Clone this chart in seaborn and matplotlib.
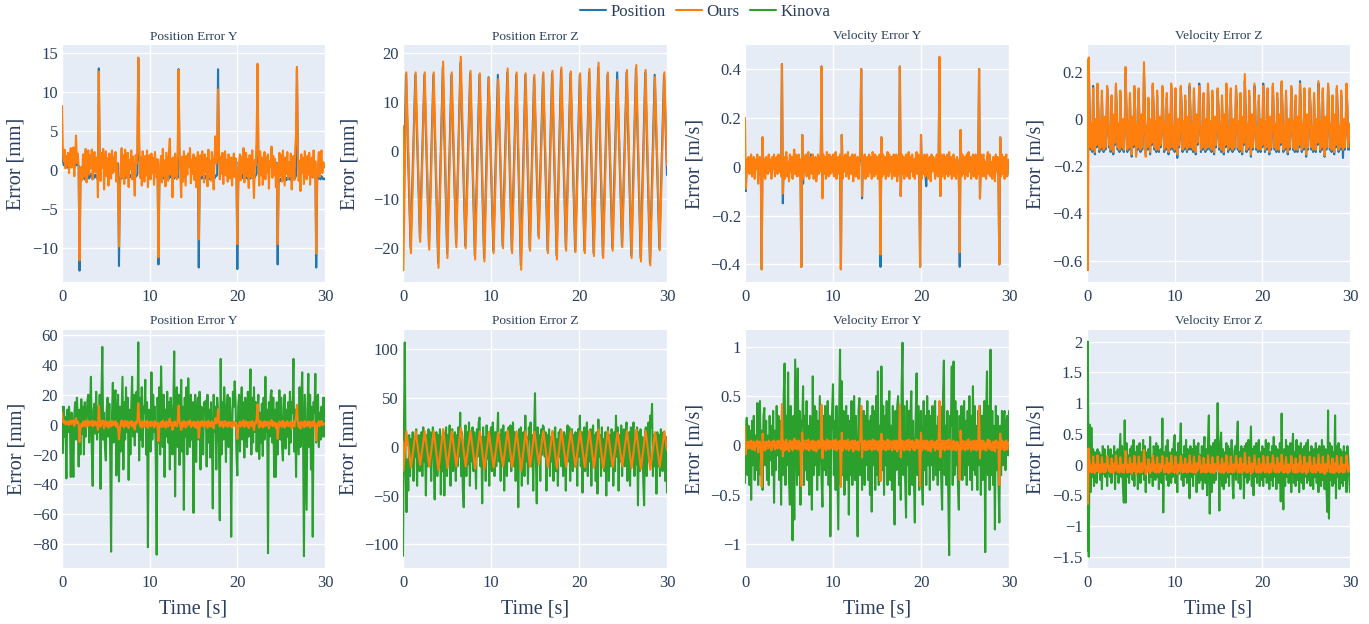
import numpy as np
import matplotlib
matplotlib.use("Agg")
import matplotlib.pyplot as plt
from matplotlib.ticker import FixedLocator, FuncFormatter
from matplotlib.lines import Line2D
import seaborn as sns

# ---------------- data (0.1 s grid unless noted) ----------------
series_names = ["Position", "Ours", "Kinova"]
panel_titles = ["Position Error Y", "Position Error Z", "Velocity Error Y", "Velocity Error Z"]
y_titles = ["Error [mm]", "Error [mm]", "Error [m/s]", "Error [m/s]"]
x_title = "Time [s]"

pos_y_ours = [
    8.2, 2.4, 1.1, 2.6, 0.2, 1.8, 0.6, 2.2, -0.4, 1.5,
    2.8, 0.3, 1.9, 2.9, -0.8, 1.6, 4.4, 0.9, 2.1, 0.4,
    -11.6, -2.1, 0.4, -1.3, 2.0, -0.9, 1.4, 2.7, -1.6, 0.8,
    2.5, -0.6, 1.9, 0.2, 2.6, -1.2, 1.1, 2.3, -0.3, 1.6,
    0.5, -3.5, 12.6, 1.8, -1.4, 2.2, 0.3, 2.7, -2.5, 1.0,
    2.4, -0.8, 1.5, -2.0, 2.1, 0.6, -1.1, 2.5, -0.4, 1.7,
    -0.2, 2.3, -1.5, 0.9, -2.4, -9.8, -3.0, 0.6, 2.8, -1.0,
    1.9, -1.8, 2.6, 0.4, -0.9, 2.2, -2.2, 1.3, 0.1, 2.5,
    -1.2, 1.7, -0.5, -3.3, 1.9, 0.8, 2.4, 14.4, 4.5, -1.0,
    1.6, -2.0, 2.4, 0.2, -1.5, 1.8, -0.7, 2.5, -2.2, 0.9,
    1.9, -1.2, 2.1, -0.4, 1.5, -1.9, 2.3, 0.6, -1.0, 1.4,
    -11.2, -2.5, 0.7, 1.8, -1.6, 2.7, -0.8, 1.2, -2.1, 2.2,
    0.3, -1.4, 2.5, 4.0, -0.6, 1.4, -3.5, 1.6, -0.9, 2.1,
    0.5, -1.2, 2.2, 12.8, 2.6, -0.8, -3.5, 1.7, -1.5, 2.4,
    0.2, -2.0, 1.8, -0.6, 2.1, 0.4, 2.8, -1.7, 1.3, -0.5,
    2.0, -1.3, 1.6, -2.2, 0.9, 2.3, -8.9, -1.8, 1.9, -0.7,
    2.4, 0.1, -1.6, 2.0, -0.3, 1.5, -2.1, 2.6, -0.9, 1.2,
    -1.4, 2.3, 0.6, -2.5, 1.4, 4.3, 0.8, 1.9, 10.3, 2.5,
    -1.2, 1.7, -0.5, 2.2, -1.8, 1.0, 2.4, -0.7, 1.3, -1.5,
    2.0, 0.3, -1.1, 1.6, -2.0, 0.8, 2.1, -0.9, 1.5, -0.2,
    -9.5, -2.4, 0.9, 2.0, -1.3, 1.7, -0.4, 2.8, -1.6, 0.7,
    2.2, -0.8, 1.4, -2.3, 1.9, 0.2, -1.0, 2.5, -0.5, -3.6,
    1.3, 0.6, 3.7, 13.6, 1.8, -2.0, 2.4, -0.7, 1.6, -1.9,
    0.9, 2.3, -1.2, 1.7, -0.3, 2.0, -2.4, 1.1, 0.4, 3.0,
    -1.0, 1.8, -0.6, 1.4, -2.2, 0.8, -9.5, -1.9, 2.2, -0.8,
    1.9, -1.5, 2.5, 0.3, -2.0, 1.6, -0.5, 2.3, -1.1, 1.0,
    -0.7, 2.1, -2.5, 0.9, 1.8, -1.3, 2.6, 4.5, 13.2, 1.9,
    -1.4, 1.2, -2.7, 2.0, -0.4, 1.5, -1.8, 2.4, 0.1, -1.2,
    1.8, -0.6, 2.2, -1.9, 0.7, 1.6, -1.0, 2.5, -0.3, 1.1,
    -10.7, -1.5, 0.8, 2.3, -0.9, 1.7, 2.5, -0.4, 1.0, 0.5,
    0.3]

pos_y_position = [
    2.3, 1.2, 0.6, 0.9, 0.4, 0.7, 0.3, 0.8, 0.5, 0.6,
    0.4, 0.8, 0.5, 0.9, 0.3, 0.7, 1.0, 0.6, 0.8, 0.5,
    -12.9, -1.4, -0.9, -1.1, -0.6, -0.9, -1.2, -0.7, -1.0, -0.8,
    -0.6, -1.1, -0.8, -0.5, -0.9, -1.2, -0.7, -1.0, -0.6, -0.9,
    -0.8, -1.3, 13.0, 0.9, 1.2, 0.7, 1.0, 0.6, 1.3, 0.8,
    1.1, 0.6, 0.9, 1.2, 0.7, 1.0, 0.5, 1.1, 0.8, 0.9,
    0.7, 1.0, 0.6, 0.9, 0.8, -12.3, -1.5, -0.8, -1.1, -0.6,
    -0.9, -1.2, -0.7, -1.0, -0.5, -0.8, -1.1, -0.6, -0.9, -0.7,
    -1.0, -0.6, -0.9, -1.2, -0.7, -0.8, -0.5, 14.3, 1.6, 0.9,
    1.2, 0.8, 1.0, 0.6, 1.1, 0.9, 0.7, 1.2, 0.8, 1.0,
    0.6, 0.9, 1.1, 0.7, 1.0, 0.8, 0.5, 0.9, 1.0, 0.7,
    -12.1, -1.4, -0.9, -1.1, -0.7, -1.0, -0.8, -1.2, -0.6, -0.9,
    -1.0, -0.7, -1.1, -0.8, -0.6, -1.0, -0.9, -0.7, -1.1, -0.8,
    -0.9, -0.6, -1.0, 12.9, 1.0, 0.7, 1.2, 0.8, 1.0, 0.6,
    1.1, 0.9, 0.7, 1.0, 0.8, 1.2, 0.6, 0.9, 1.0, 0.7,
    0.9, 1.1, 0.8, 0.6, 1.0, 0.8, -12.5, -1.3, -0.9, -1.1,
    -0.7, -1.0, -1.2, -0.8, -1.1, -0.6, -0.9, -1.0, -0.7, -1.2,
    -0.8, -1.0, -0.6, -0.9, -1.1, -0.7, -0.8, -0.6, 12.9, 1.3,
    0.9, 1.1, 0.7, 1.0, 0.8, 1.2, 0.6, 0.9, 1.1, 0.8,
    1.0, 0.7, 0.9, 1.1, 0.6, 0.9, 1.0, 0.8, 0.7, 1.0,
    -12.7, -1.5, -0.9, -1.2, -0.8, -1.0, -0.6, -1.1, -0.9, -0.7,
    -1.0, -0.8, -1.2, -0.7, -0.9, -1.1, -0.6, -1.0, -0.8, -1.1,
    -0.9, -0.7, -0.5, 12.8, 1.2, 0.8, 1.0, 0.7, 1.1, 0.9,
    0.8, 1.0, 0.6, 1.1, 0.9, 0.7, 1.0, 0.8, 1.2, 0.9,
    0.7, 1.0, 0.8, 1.1, 0.6, 0.9, -12.1, -1.6, -1.2, -1.4,
    -1.1, -1.3, -0.9, -1.2, -1.4, -1.0, -1.3, -1.1, -0.8, -1.2,
    -1.0, -1.3, -0.9, -1.1, -0.8, -1.2, -1.0, -0.7, 12.8, 1.4,
    0.9, 1.1, 0.7, 1.0, 0.8, 1.2, 0.9, 0.6, 1.0, 0.8,
    1.1, 0.7, 0.9, 1.0, 0.8, 1.2, 0.6, 0.9, 1.0, 0.8,
    -12.5, -1.4, -0.8, -1.1, -0.9, -1.2, -0.8, -1.0, -1.2, -1.1,
    -1.2]

pos_y_kinova = [
    12, -19, 12, -8, 5, -36, 10, -5, 12, 3,
    -35, 8, -12, -35, 6, 15, -10, 18, 4, -28,
    10, -20, 17, -6, 12, -20, 15, -8, 5, 16,
    20, -12, 8, 32, -18, -41, 10, 14, -6, 22,
    -10, 12, -5, 20, -43, 18, 52, -10, 8, -15,
    -24, 10, 18, -8, 14, -20, -85, 5, 28, -12,
    15, 23, -34, 8, 20, -38, 12, -18, 6, 32,
    -30, 15, -10, 25, -5, 18, -37, 10, -20, 12,
    32, -8, 20, -14, 10, 22, -5, 55, -24, 18,
    -10, 25, -15, 12, 8, 30, -20, 15, -82, 10,
    5, -18, 35, -10, 20, -5, 12, -25, -87, 18,
    -12, 25, -20, 39, 8, -15, 20, -35, 10, -8,
    22, -12, 15, -30, 18, 5, -20, 12, 49, -48,
    10, 25, -15, 20, -27, 8, 30, -18, 12, -57,
    18, -8, 25, -20, 31, 5, -15, 20, -10, 15,
    -59, 12, 20, -25, 8, 18, -10, 22, -30, 12,
    5, -20, 15, 8, 16, -28, 20, -12, 10, -22,
    15, -8, -56, 20, -5, 12, -30, 18, 8, -15,
    -64, 44, -20, 15, -10, 25, 8, -25, 12, 20,
    -15, 18, 10, -75, -8, 22, 12, 29, 15, -20,
    -34, 12, 20, -18, 8, 25, -10, 15, -22, 18,
    5, -15, 22, -8, 12, 37, -20, 18, -12, 25,
    -5, 15, -18, 10, 20, -23, 8, -12, 14, -21,
    18, -10, 32, -5, 10, -86, 15, -8, 20, 23,
    -12, 18, -35, 10, -35, 15, -20, 8, 23, -10,
    18, -15, -24, 12, 20, -16, 10, -8, 15, -20,
    22, -12, 15, 8, 44, -18, 10, -35, 12, -5,
    -20, 25, -15, 18, 35, -10, -88, 20, -20, -57,
    10, 34, -15, 20, -30, 12, -75, 15, 8, 34,
    -12, 15, 20, -15, 8, -10, 12, -8, 18, -8,
    18]

# Position error Z: peaks and troughs (irregular times)
pos_z_ours_t = [0.0, 0.04, 0.38, 0.9, 1.44, 1.95, 2.47, 2.98, 3.49, 4.03, 4.56, 5.05, 5.54, 6.06,
                6.57, 7.12, 7.67, 8.2, 8.73, 9.25, 9.76, 10.3, 10.82, 11.36, 11.89, 12.4, 12.91,
                13.43, 13.94, 14.44, 14.93, 15.44, 15.95, 16.47, 16.98, 17.49, 18.0, 18.54, 19.07,
                19.6, 20.13, 20.66, 21.19, 21.7, 22.22, 22.75, 23.28, 23.83, 24.38, 24.92, 25.45,
                25.98, 26.51, 27.04, 27.57, 28.1, 28.64, 29.17, 29.7, 30.0]
pos_z_ours = [5, -24.5, 16, -21, 16, -18.7, 16, -20.3, 16, -24, 18.2, -22, 16, -19.8, 19.2, -20,
              16.3, -22.3, 15.8, -22.7, 14.8, -21, 14.6, -20, 16.8, -21, 16, -24.4, 15.8, -20.5,
              15.5, -18, 16, -21, 16.3, -22.3, 17, -20.5, 16.2, -20.8, 15.8, -21, 16.7, -21.6,
              18, -22, 16, -20.5, 14.5, -19.8, 16.5, -22, 17.5, -22.7, 16.5, -23.5, 15, -20.4,
              16, -3]
pos_z_position_t = [0.0, 0.34, 0.86, 1.4, 1.92, 2.43, 2.95, 3.45, 3.99, 4.52, 5.01, 5.5, 6.03, 6.53,
                    7.08, 7.63, 8.16, 8.69, 9.21, 9.72, 10.26, 10.78, 11.32, 11.85, 12.36, 12.87,
                    13.39, 13.9, 14.4, 14.89, 15.4, 15.91, 16.43, 16.94, 17.45, 17.96, 18.5, 19.03,
                    19.56, 20.09, 20.62, 21.15, 21.66, 22.18, 22.71, 23.24, 23.79, 24.34, 24.88,
                    25.41, 25.94, 26.47, 27.0, 27.53, 28.06, 28.6, 29.13, 29.66, 30.0]
pos_z_position = [-15, 15.5, -20, 15.5, -18, 15.5, -19.5, 15.5, -23, 17, -21, 15.5, -19, 18, -19.5,
                  15.8, -21.5, 15.5, -22, 15, -20.5, 15.5, -19.5, 16, -20.5, 15.5, -23.5, 15.5, -20,
                  15, -17.5, 15.5, -20.5, 15.8, -21.5, 16.5, -20, 15.8, -20.5, 15.5, -20.5, 16, -21,
                  17, -21.5, 15.5, -20, 16, -19.5, 16, -21.5, 16.8, -22, 16, -23, 15.5, -20, 15.5, -5]

pos_z_kinova = [
    -112, 10, 107, -20, -67, -13, -45, 12, -30, 8,
    -20, 15, -35, 10, -10, 18, -40, 5, 12, -25,
    8, 15, -30, 20, -15, 5, -50, 12, -20, 18,
    -10, 15, -35, 8, 20, -12, -54, 10, 15, -30,
    12, -20, 18, -49, 10, -25, 15, -50, 8, 20,
    -30, 12, -15, 22, -40, 10, 18, -25, 5, 15,
    -35, 12, -20, 20, -10, 35, -30, 15, -45, -62,
    8, 22, -30, 15, -18, 25, -40, 10, -15, 20,
    -25, 15, -10, -43, 18, -10, 25, 30, -20, 10,
    -58, 20, -15, 10, -35, 22, -12, 15, -40, 12,
    20, -25, 25, 8, -30, 15, -20, 10, 35, -15,
    12, -35, 18, -10, 22, -45, 10, 15, -30, 8,
    20, -15, 22, -25, 12, 25, -20, 15, -35, 10,
    8, -62, 18, -10, 20, -40, 12, 15, -30, 32,
    -15, 10, -38, 20, 8, 25, -20, 12, -45, 15,
    55, -10, -58, 20, -15, 12, -35, 18, -8, 22,
    20, -10, 15, -45, 12, -20, 18, -30, 10, -15,
    15, -35, 12, 20, -25, 8, -40, 15, -10, 18,
    -20, 10, -30, 15, 8, -45, 12, 22, -15, 20,
    -35, 10, 18, -25, 12, -20, 15, 8, -40, 18,
    -10, 32, -20, 15, -47, 12, 20, -25, 10, 25,
    -30, 15, -15, 18, -40, 10, 22, -20, 12, -35,
    15, -48, 28, -10, 12, -30, 20, -15, 8, -25,
    15, -50, 10, 20, -35, 12, -20, 18, 8, -40,
    15, -25, 32, -10, 20, -45, 12, -15, 22, -30,
    10, 18, -20, 12, 25, -35, 8, 15, -40, 20,
    -15, 12, 25, -30, 10, -18, 20, -60, 15, -25,
    18, -20, 10, -35, -60, 15, 20, -30, 12, 25,
    -15, 32, 20, 44, -30, 12, -20, 10, -48, 15,
    -20, 12, -30, 18, 5, -25, 15, 8, -35, 10,
    -47]

vel_y_ours = [
    0.20, -0.09, 0.03, -0.02, 0.04, -0.03, 0.02, 0.05, -0.04, 0.01,
    0.04, -0.05, 0.03, -0.01, 0.05, -0.07, 0.02, 0.04, -0.03, -0.42,
    0.12, -0.04, 0.03, -0.05, 0.04, 0.01, -0.03, 0.05, -0.02, 0.03,
    -0.05, 0.04, -0.01, 0.05, -0.04, 0.02, 0.04, -0.03, 0.05, -0.02,
    0.03, -0.04, 0.42, -0.11, 0.04, -0.05, 0.03, 0.06, -0.04, 0.02,
    -0.06, 0.05, -0.02, 0.04, -0.05, 0.03, 0.07, -0.03, 0.05, -0.04,
    0.02, 0.05, -0.04, 0.03, -0.41, 0.13, -0.05, 0.04, -0.02, 0.05,
    -0.04, 0.03, 0.06, -0.05, 0.02, 0.04, -0.03, 0.05, -0.05, 0.03,
    0.04, -0.06, 0.02, 0.05, -0.03, 0.04, -0.02, 0.41, -0.13, 0.05,
    -0.03, 0.04, -0.05, 0.06, 0.02, -0.04, 0.05, -0.03, 0.04, -0.02,
    0.05, -0.04, 0.03, 0.06, -0.05, 0.02, 0.04, -0.03, 0.05, -0.42,
    0.13, -0.05, 0.04, -0.02, 0.05, -0.04, 0.03, 0.06, -0.05, 0.02,
    0.04, -0.03, 0.05, -0.06, 0.03, 0.05, -0.04, 0.02, 0.04, -0.05,
    0.03, 0.05, 0.40, -0.12, 0.04, -0.03, 0.05, -0.05, 0.02, 0.04,
    -0.04, 0.05, -0.02, 0.04, -0.05, 0.06, 0.02, -0.04, 0.05, -0.03,
    0.04, -0.05, 0.03, 0.05, -0.36, 0.12, -0.04, 0.05, -0.03, 0.04,
    -0.05, 0.03, 0.06, -0.04, 0.05, -0.02, 0.04, -0.05, 0.03, 0.05,
    -0.04, 0.02, 0.05, -0.06, 0.04, -0.03, 0.41, -0.12, 0.05, -0.03,
    0.04, -0.05, 0.03, 0.05, -0.04, 0.02, 0.06, -0.05, 0.04, -0.02,
    0.05, -0.04, 0.03, -0.05, 0.04, 0.06, -0.03, 0.05, -0.04, -0.41,
    0.13, -0.05, 0.04, -0.03, 0.05, -0.04, 0.02, 0.05, -0.05, 0.03,
    0.04, -0.06, 0.05, -0.02, 0.04, 0.01, -0.05, 0.03, 0.05, -0.04,
    0.02, 0.45, -0.12, 0.05, -0.04, 0.03, 0.05, -0.05, 0.04, -0.03,
    0.05, -0.04, 0.06, -0.03, 0.04, -0.05, 0.02, 0.05, -0.04, 0.03,
    -0.05, 0.04, 0.02, -0.04, -0.35, 0.15, -0.04, 0.05, -0.03, 0.04,
    -0.05, 0.03, 0.05, -0.04, 0.06, -0.02, 0.04, -0.05, 0.03, 0.05,
    -0.04, 0.02, 0.05, -0.05, 0.04, -0.03, 0.40, -0.13, 0.05, -0.04,
    0.03, 0.05, -0.04, 0.02, -0.05, 0.04, 0.06, -0.03, 0.05, -0.04,
    0.02, -0.05, 0.04, 0.03, -0.06, 0.05, -0.02, 0.04, -0.04, -0.40,
    0.12, -0.04, 0.05, -0.03, 0.04, -0.05, 0.03, 0.05, -0.04, 0.02,
    0.03]

vel_y_position = [
    0.02, -0.10, 0.02, -0.01, 0.02, -0.02, 0.01, 0.03, -0.02, 0.01,
    0.02, -0.03, 0.02, 0.00, 0.03, -0.04, 0.01, 0.02, -0.02, -0.42,
    0.12, -0.03, 0.02, -0.03, 0.02, 0.01, -0.02, 0.03, -0.01, 0.02,
    -0.03, 0.02, 0.00, 0.03, -0.02, 0.01, 0.03, -0.02, 0.03, -0.01,
    0.02, -0.03, 0.42, -0.15, 0.03, -0.03, 0.02, 0.04, -0.02, 0.01,
    -0.04, 0.03, -0.01, 0.02, -0.03, 0.02, 0.04, -0.02, 0.03, -0.02,
    0.01, 0.03, -0.02, 0.02, -0.41, 0.13, -0.07, 0.03, -0.01, 0.03,
    -0.02, 0.02, 0.04, -0.03, 0.01, 0.05, -0.02, 0.03, -0.03, 0.02,
    0.03, -0.04, 0.01, 0.04, -0.02, 0.03, -0.01, 0.41, -0.12, 0.04,
    -0.02, 0.03, -0.03, 0.04, 0.01, -0.03, 0.04, -0.02, 0.03, -0.01,
    0.03, -0.03, 0.02, 0.04, -0.03, 0.01, 0.03, -0.02, 0.03, -0.42,
    0.13, -0.04, 0.03, -0.01, 0.03, -0.03, 0.02, 0.04, -0.03, 0.01,
    0.03, -0.02, 0.03, -0.04, 0.02, 0.03, -0.03, 0.01, 0.03, -0.03,
    0.02, 0.03, 0.40, -0.13, 0.03, -0.02, 0.03, -0.03, 0.01, 0.03,
    -0.03, 0.03, -0.01, 0.03, -0.03, 0.04, 0.01, -0.03, 0.03, -0.02,
    0.03, -0.03, 0.02, 0.03, -0.41, 0.12, -0.03, 0.03, -0.02, 0.03,
    -0.03, 0.02, 0.04, -0.03, 0.03, -0.01, 0.03, -0.03, 0.02, 0.03,
    -0.03, 0.01, 0.03, -0.04, 0.03, -0.02, 0.41, -0.12, 0.03, -0.02,
    0.03, -0.03, 0.02, 0.03, -0.03, 0.01, 0.04, -0.03, 0.03, -0.01,
    0.03, -0.03, 0.02, -0.03, 0.03, 0.04, -0.02, 0.03, -0.03, -0.41,
    0.13, -0.03, 0.03, -0.02, 0.03, -0.03, -0.08, 0.03, -0.03, 0.02,
    0.03, -0.04, 0.03, -0.01, 0.03, 0.01, -0.03, 0.02, 0.03, -0.03,
    0.01, 0.44, -0.12, 0.03, -0.03, 0.02, 0.03, -0.03, 0.03, -0.02,
    0.03, -0.03, 0.04, -0.02, 0.03, -0.03, 0.01, 0.03, -0.03, 0.02,
    -0.03, 0.03, 0.01, -0.03, -0.41, 0.15, -0.03, 0.03, -0.02, 0.03,
    -0.03, 0.02, 0.03, -0.03, 0.04, -0.01, 0.03, -0.03, 0.02, 0.03,
    -0.03, 0.01, 0.03, -0.03, 0.03, -0.02, 0.40, -0.13, 0.03, -0.03,
    0.02, 0.03, -0.03, 0.01, -0.03, 0.03, 0.04, -0.02, 0.03, -0.03,
    0.01, -0.03, 0.03, 0.02, -0.04, 0.03, -0.01, 0.03, -0.03, -0.40,
    0.12, -0.03, 0.03, -0.02, 0.03, -0.03, 0.02, 0.03, -0.03, 0.01,
    0.02]

vel_y_kinova = [
    -0.38, 0.1, 0.28, -0.3, 0.2, -0.4, 0.15, -0.55, 0.25, -0.2,
    0.3, -0.35, 0.1, -0.25, 0.43, -0.4, 0.2, 0.45, -0.3, 0.15,
    -0.45, 0.3, 0.38, -0.2, 0.25, -0.35, 0.1, -0.4, 0.3, -0.15,
    0.2, -0.3, 0.35, -0.58, 0.15, -0.25, 0.4, -0.1, 0.3, -0.35,
    0.25, -0.6, 0.2, -0.3, 0.5, 0.83, -0.4, 0.3, -0.2, 0.74,
    -0.35, -0.6, 0.4, -0.2, -0.96, 0.3, -0.75, 0.87, 0.2, -0.4,
    0.78, -0.3, 0.35, -0.6, 0.25, 0.2, 0.6, -0.4, 0.3, -0.25,
    0.45, -0.35, 0.2, -0.5, 0.3, 0.15, -0.65, 0.7, -0.3, 0.4,
    -0.2, 0.35, -0.45, 0.25, -0.3, 0.5, 0.1, -0.35, -0.62, 0.3,
    -0.25, 0.4, -0.3, 0.2, 0.45, -0.4, 0.3, -0.92, 0.15, 0.35,
    0.62, -0.3, 0.25, -0.45, 0.4, -0.2, -0.85, 0.3, 0.97, -0.4,
    0.65, -0.3, 0.35, -0.5, 0.2, 0.4, -0.35, 0.3, -0.7, 0.25,
    -0.3, 0.45, -0.4, 0.2, 0.5, -0.35, 0.3, -0.25, -0.92, 0.35,
    0.48, -0.3, 0.4, -0.45, 0.2, 0.35, -0.4, 0.3, -0.2, 0.45,
    -0.35, 0.25, -0.5, 0.3, -0.67, 0.4, -0.2, 0.35, -0.45, 0.5,
    -0.3, 0.75, -0.4, 0.2, -0.35, 0.8, -0.25, 0.4, -0.5, 0.3,
    -0.2, 0.45, -0.4, 0.3, 0.55, -0.35, 0.2, -0.45, 0.4, -0.3,
    -0.8, 0.35, -0.25, 0.4, 0.5, -0.4, 0.3, -0.55, 0.6, 1.04,
    -0.3, 0.4, -0.35, -0.73, 0.45, -0.2, 0.35, -0.5, 0.3, 0.55,
    -0.4, 0.25, -0.35, -0.78, 0.3, 0.73, -0.3, 0.4, -0.45, 0.2,
    0.35, -0.3, -0.6, 0.45, -0.25, 0.3, -0.4, 0.5, -0.2, 0.35,
    -0.45, 0.3, -0.2, 0.4, -0.35, 0.25, 0.45, -0.3, 0.2, -0.4,
    0.3, -0.25, 0.4, -0.35, -0.65, 0.5, 0.86, -0.3, 0.2, -0.4,
    0.35, -0.5, -1.11, 0.3, 0.2, 0.8, -0.4, 0.85, -0.3, 0.45,
    -0.2, 0.35, -0.4, -0.65, 0.3, -0.25, 0.4, -0.35, 0.2, 0.45,
    -0.3, 0.25, -0.4, 0.35, -0.2, 0.5, -0.35, 0.3, -0.45, 0.6,
    -0.25, 0.4, -0.3, 0.2, -0.45, 0.35, -0.2, 0.4, -0.5, 0.3,
    -0.35, 0.25, 0.45, -1.08, 0.3, 0.75, -0.3, 0.4, -0.45, 0.97,
    -0.3, 0.35, -0.4, 0.2, -0.85, 0.4, -0.25, 0.3, -0.35, -0.78,
    0.2, -0.3, 0.35, -0.2, 0.3, 0.35, -0.25, 0.2, 0.3, -0.1,
    0.35]

# one tall peak per ~1.05 s plus a secondary bump, dense oscillation below
vel_z_ours = [
    0.25, -0.64,
    0.26, 0.03, -0.12, -0.02, -0.13, 0.13, -0.05, -0.14, 0.00, -0.11,
    0.15, 0.02, -0.13, -0.01, -0.12, 0.12, -0.04, -0.13, 0.01, -0.12, -0.06,
    0.14, 0.04, -0.11, -0.03, -0.13, 0.10, -0.06, -0.14, 0.02, -0.10,
    0.15, 0.01, -0.12, -0.02, -0.13, 0.12, -0.05, -0.12, 0.00, -0.13, -0.05,
    0.22, 0.03, -0.13, -0.01, -0.12, 0.11, -0.06, -0.15, 0.01, -0.11,
    0.14, 0.02, -0.16, -0.02, -0.12, 0.13, -0.04, -0.13, 0.02, -0.12, -0.06,
    0.24, 0.04, -0.16, -0.03, -0.12, 0.09, -0.05, -0.14, 0.00, -0.10,
    0.15, 0.03, -0.12, -0.01, -0.13, 0.12, -0.06, -0.13, 0.01, -0.11, -0.05,
    0.14, 0.02, -0.13, -0.02, -0.12, 0.11, -0.04, -0.14, 0.02, -0.12,
    0.15, 0.04, -0.12, -0.03, -0.13, 0.13, -0.05, -0.15, 0.00, -0.11, -0.06,
    0.14, 0.03, -0.13, -0.01, -0.12, 0.10, -0.06, -0.13, 0.01, -0.12,
    0.15, 0.02, -0.12, -0.02, -0.13, 0.13, -0.04, -0.14, 0.02, -0.10, -0.05,
    0.14, 0.04, -0.13, -0.03, -0.12, 0.11, -0.05, -0.13, 0.00, -0.12,
    0.15, 0.01, -0.12, -0.01, -0.13, 0.12, -0.06, -0.14, 0.01, -0.11, -0.06,
    0.13, 0.03, -0.12, -0.02, -0.13, 0.10, -0.04, -0.14, 0.02, -0.11,
    0.15, 0.02, -0.13, -0.03, -0.12, 0.13, -0.05, -0.13, 0.00, -0.12, -0.05,
    0.14, 0.04, -0.12, -0.01, -0.13, 0.11, -0.06, -0.14, 0.01, -0.10,
    0.19, 0.03, -0.13, -0.02, -0.12, 0.12, -0.04, -0.15, 0.02, -0.12, -0.06,
    0.15, 0.02, -0.12, -0.03, -0.13, 0.10, -0.05, -0.13, 0.00, -0.11,
    0.14, 0.04, -0.13, -0.01, -0.12, 0.13, -0.06, -0.14, 0.01, -0.12, -0.05,
    0.15, 0.01, -0.12, -0.02, -0.13, 0.11, -0.04, -0.13, 0.02, -0.10,
    0.16, 0.03, -0.13, -0.03, -0.12, 0.12, -0.05, -0.14, 0.00, -0.12, -0.06,
    0.14, 0.02, -0.12, -0.01, -0.13, 0.10, -0.06, -0.13, 0.01, -0.11,
    0.15, 0.04, -0.13, -0.02, -0.12, 0.13, -0.04, -0.15, 0.02, -0.12, -0.05,
    0.13, 0.03, -0.12, -0.03, -0.13, 0.11, -0.05, -0.13, 0.00, -0.10,
    0.16, 0.02, -0.13, -0.01, -0.12, 0.13, -0.06, -0.155, 0.01, -0.12, -0.06,
    0.15, 0.04, -0.12, -0.02, -0.13, 0.10, -0.04, -0.14, 0.02, -0.11,
    0.14, 0.01, -0.13, -0.03, -0.12, 0.12, -0.05, -0.13, 0.00, -0.12, -0.05,
    0.15, 0.03, -0.12, -0.02, -0.09]

vel_z_position = [
    0.24, 0.10,
    0.20, 0.05, -0.13, -0.04, -0.14, 0.14, -0.07, -0.15, -0.01, -0.12,
    0.14, 0.04, -0.14, -0.03, -0.13, 0.10, -0.06, -0.14, -0.01, -0.13, -0.07,
    0.13, 0.06, -0.12, -0.05, -0.14, 0.08, -0.08, -0.15, 0.00, -0.11,
    0.14, 0.03, -0.13, -0.04, -0.14, 0.11, -0.07, -0.13, -0.02, -0.14, -0.06,
    0.19, 0.05, -0.14, -0.03, -0.13, 0.09, -0.08, -0.16, -0.01, -0.12,
    0.13, 0.04, -0.15, -0.04, -0.13, 0.12, -0.06, -0.14, 0.00, -0.13, -0.07,
    0.20, 0.06, -0.15, -0.05, -0.13, 0.07, -0.07, -0.15, -0.02, -0.11,
    0.14, 0.05, -0.13, -0.03, -0.14, 0.10, -0.08, -0.14, -0.01, -0.12, -0.06,
    0.13, 0.04, -0.14, -0.04, -0.13, 0.09, -0.06, -0.15, 0.00, -0.13,
    0.14, 0.06, -0.13, -0.05, -0.14, 0.11, -0.07, -0.165, -0.02, -0.12, -0.07,
    0.13, 0.05, -0.14, -0.03, -0.13, 0.08, -0.08, -0.14, -0.01, -0.13,
    0.14, 0.04, -0.13, -0.04, -0.14, 0.12, -0.06, -0.15, 0.00, -0.11, -0.06,
    0.15, 0.06, -0.14, -0.05, -0.13, 0.09, -0.07, -0.14, -0.02, -0.13,
    0.14, 0.03, -0.13, -0.03, -0.14, 0.10, -0.08, -0.15, -0.01, -0.12, -0.07,
    0.12, 0.05, -0.13, -0.04, -0.14, 0.08, -0.06, -0.15, 0.00, -0.12,
    0.14, 0.04, -0.14, -0.05, -0.13, 0.11, -0.07, -0.14, -0.02, -0.13, -0.06,
    0.13, 0.06, -0.13, -0.03, -0.14, 0.09, -0.08, -0.15, -0.01, -0.11,
    0.16, 0.05, -0.14, -0.04, -0.13, 0.10, -0.06, -0.16, 0.00, -0.13, -0.07,
    0.14, 0.04, -0.13, -0.05, -0.14, 0.08, -0.07, -0.14, -0.02, -0.12,
    0.15, 0.06, -0.14, -0.03, -0.13, 0.12, -0.08, -0.15, -0.01, -0.13, -0.06,
    0.14, 0.03, -0.13, -0.04, -0.14, 0.09, -0.06, -0.14, 0.00, -0.11,
    0.15, 0.05, -0.14, -0.05, -0.13, 0.10, -0.07, -0.15, -0.02, -0.13, -0.07,
    0.13, 0.04, -0.13, -0.03, -0.14, 0.08, -0.08, -0.14, -0.01, -0.12,
    0.16, 0.06, -0.14, -0.04, -0.13, 0.11, -0.06, -0.16, 0.00, -0.13, -0.06,
    0.12, 0.05, -0.13, -0.05, -0.14, 0.09, -0.07, -0.14, -0.02, -0.11,
    0.15, 0.04, -0.14, -0.03, -0.13, 0.12, -0.08, -0.16, -0.01, -0.13, -0.07,
    0.14, 0.06, -0.13, -0.04, -0.14, 0.08, -0.06, -0.15, 0.00, -0.12,
    0.13, 0.03, -0.14, -0.05, -0.13, 0.10, -0.07, -0.165, -0.02, -0.13, -0.06,
    0.14, 0.05, -0.13, -0.04, -0.13]

vel_z_kinova = [
    -1.4, 2.0, -1.5, 0.65, -0.45, 0.6, -0.2, 0.25, -0.35, 0.2,
    0.1, -0.3, 0.25, -0.1, 0.2, -0.25, 0.15, -0.4, 0.3, -0.15,
    0.25, -0.2, 0.1, -0.35, 0.3, 0.05, -0.2, 0.25, -0.3, 0.15,
    -0.1, 0.3, -0.4, 0.2, -0.15, 0.25, -0.3, 0.1, 0.5, -0.2,
    0.3, -0.35, -0.62, 0.72, -0.62, 0.35, -0.2, 0.15, -0.3, 0.25,
    -0.15, 0.3, -0.25, 0.4, -0.35, 0.2, -0.1, 0.3, -0.4, 0.15,
    0.35, -0.3, 0.2, -0.15, 0.4, -0.25, 0.3, -0.45, 0.2, -0.1,
    0.25, -0.3, 0.45, -0.2, 0.1, -0.35, 0.3, 0.2, -0.25, 0.35,
    -0.2, 0.3, -0.4, 0.15, 0.25, -0.3, 0.75, -0.78, 0.2, -0.15,
    0.3, -0.25, 0.4, -0.35, 0.2, 0.1, -0.3, 0.25, -0.2, 0.35,
    0.48, -0.3, 0.2, -0.45, 0.35, -0.15, 0.3, 0.67, -0.25, 0.15,
    -0.35, 0.3, -0.2, 0.4, -0.3, 0.25, 0.1, -0.55, 0.3, -0.2,
    0.25, -0.35, 0.4, -0.15, 0.3, -0.45, 0.2, 0.35, -0.3, 0.15,
    -0.25, 0.3, -0.4, 0.2, 0.45, -0.3, 0.25, -0.5, 0.35, 0.8,
    -0.8, 0.3, -0.45, 0.2, 0.35, -0.3, 0.4, -0.25, 0.15, 1.0,
    0.2, -0.75, 0.3, 0.52, -0.35, 0.25, -0.4, 0.2, -0.3, 0.35,
    -0.2, 0.3, -0.35, 0.25, -0.15, 0.4, -0.3, -0.55, 0.2, 0.3,
    -0.25, 0.35, 0.7, -0.3, 0.2, -0.4, 0.3, -0.15, 0.25, -0.55,
    0.3, -0.2, 0.35, -0.3, 0.4, -0.25, 0.2, 0.62, -0.35, 0.25,
    -0.5, 0.3, -0.2, 0.35, -0.3, 0.25, 0.4, -0.35, 0.2, -0.25,
    0.3, -0.35, 0.25, -0.2, 0.4, -0.3, 0.15, 0.35, -0.4, 0.2,
    -0.25, 0.3, -0.35, 0.45, -0.2, 0.3, -0.4, 0.25, 0.15, -0.3,
    0.35, -0.6, 0.83, -0.3, -0.73, 0.25, -0.35, 0.4, -0.2, 0.3,
    -0.3, 0.2, 0.35, -0.45, 0.25, 0.5, -0.3, 0.2, -0.35, 0.4,
    -0.25, 0.3, -0.45, 0.2, 0.35, -0.3, 0.25, -0.4, 0.3, -0.2,
    0.35, -0.3, 0.4, -0.25, 0.2, -0.35, 0.3, 0.15, -0.4, 0.25,
    -0.2, 0.35, -0.3, 0.25, -0.45, 0.3, 0.2, -0.35, 0.4, -0.25,
    0.3, -0.4, 0.25, -0.3, -0.77, 0.88, -0.88, 0.35, -0.25, 0.3,
    -0.35, 0.2, -0.3, 0.8, -0.55, 0.3, -0.2, 0.35, -0.4, 0.25,
    -0.3, 0.2, -0.35, 0.3, -0.25, 0.2, -0.45, 0.3, 0.12, -0.2,
    -0.45]

x_ticks = [0, 10, 20, 30]
y_ticks = [
    [-10, -5, 0, 5, 10, 15], [-20, -10, 0, 10, 20], [-0.4, -0.2, 0, 0.2, 0.4], [-0.6, -0.4, -0.2, 0, 0.2],
    [-80, -60, -40, -20, 0, 20, 40, 60], [-100, -50, 0, 50, 100], [-1, -0.5, 0, 0.5, 1],
    [-1.5, -1, -0.5, 0, 0.5, 1, 1.5, 2]]
y_ranges = [(-14.35, 16.0), (-26.9, 21.6), (-0.472, 0.498), (-0.69, 0.313),
            (-95.9, 63.3), (-124.3, 119.8), (-1.24, 1.169), (-1.684, 2.19)]

# ---------------- style ----------------
sns.set_theme(style="darkgrid")
plt.rcParams['font.family'] = ['Liberation Serif', 'DejaVu Serif']
TXT = '#2a3f5f'
C_POS, C_OURS, C_KIN = '#1f77b4', '#ff7f0e', '#2ca02c'
LW = 1.5


def grid_t(arr):
    return np.linspace(0, 30, len(arr))


fig = plt.figure(figsize=(13.69, 6.24), dpi=100)
W, H = 1369.0, 624.0
col_px = [(62, 325), (403, 667), (745, 1009), (1087, 1350)]
row_px = [(45, 282), (330, 568)]
ylab_off = [[-46, -53, -50, -51], [-45, -54, -50, -51]]

top_data = [
    [(np.array(pos_y_position), grid_t(pos_y_position)), (np.array(pos_y_ours), grid_t(pos_y_ours))],
    [(np.array(pos_z_position), np.array(pos_z_position_t)), (np.array(pos_z_ours), np.array(pos_z_ours_t))],
    [(np.array(vel_y_position), grid_t(vel_y_position)), (np.array(vel_y_ours), grid_t(vel_y_ours))],
    [(np.array(vel_z_position), grid_t(vel_z_position)), (np.array(vel_z_ours), grid_t(vel_z_ours))],
]
bottom_data = [
    [(np.array(pos_y_kinova), grid_t(pos_y_kinova)), (np.array(pos_y_ours), grid_t(pos_y_ours))],
    [(np.array(pos_z_kinova), grid_t(pos_z_kinova)), (np.array(pos_z_ours), np.array(pos_z_ours_t))],
    [(np.array(vel_y_kinova), grid_t(vel_y_kinova)), (np.array(vel_y_ours), grid_t(vel_y_ours))],
    [(np.array(vel_z_kinova), grid_t(vel_z_kinova)), (np.array(vel_z_ours), grid_t(vel_z_ours))],
]

fmt = FuncFormatter(lambda v, p: ('%g' % v).replace('-', '\u2212'))

for r in range(2):
    for c in range(4):
        x0, x1 = col_px[c]
        y0, y1 = row_px[r]
        ax = fig.add_axes([x0 / W, 1 - y1 / H, (x1 - x0) / W, (y1 - y0) / H])
        ax.set_facecolor('#E5ECF6')
        for s in ax.spines.values():
            s.set_visible(False)
        data = top_data[c] if r == 0 else bottom_data[c]
        colors = [C_POS, C_OURS] if r == 0 else [C_KIN, C_OURS]
        for (vals, tt), col in zip(data, colors):
            sns.lineplot(x=tt, y=vals, ax=ax, color=col, linewidth=LW,
                         estimator=None, sort=False, legend=False)
        ax.set_xlim(0, 30)
        ax.set_ylim(*y_ranges[r * 4 + c])
        ax.xaxis.set_major_locator(FixedLocator(x_ticks))
        ax.yaxis.set_major_locator(FixedLocator(y_ticks[r * 4 + c]))
        ax.xaxis.set_major_formatter(fmt)
        ax.yaxis.set_major_formatter(fmt)
        ax.grid(True, color='white', linewidth=1.0)
        ax.set_axisbelow(True)
        ax.tick_params(axis='both', length=0, labelsize=12, labelcolor=TXT)
        ax.tick_params(axis='y', pad=3)
        ax.tick_params(axis='x', pad=5)
        ax.set_ylabel(y_titles[c], fontsize=14.5, color=TXT)
        ax.yaxis.label.set_va('center')
        ax.yaxis.set_label_coords(ylab_off[r][c] / (x1 - x0), 0.5)
        if r == 1:
            ax.set_xlabel(x_title, fontsize=14.5, color=TXT)
            ax.xaxis.label.set_va('center')
            ax.xaxis.set_label_coords(0.5, -41.0 / (y1 - y0))
        else:
            ax.set_xlabel('')
        ax.text(0.5, 1 + 8.5 / (y1 - y0), panel_titles[c], transform=ax.transAxes,
                ha='center', va='center', fontsize=9.6, color=TXT)

handles = [Line2D([0], [0], color=C_POS, lw=LW), Line2D([0], [0], color=C_OURS, lw=LW),
           Line2D([0], [0], color=C_KIN, lw=LW)]
fig.legend(handles, series_names, loc='center', bbox_to_anchor=(705 / W, 1 - 11.5 / H),
           ncol=3, frameon=False, fontsize=12.2, handlelength=1.55, handletextpad=0.25,
           columnspacing=0.6, labelcolor=TXT)

fig.savefig('out.png', dpi=100)
